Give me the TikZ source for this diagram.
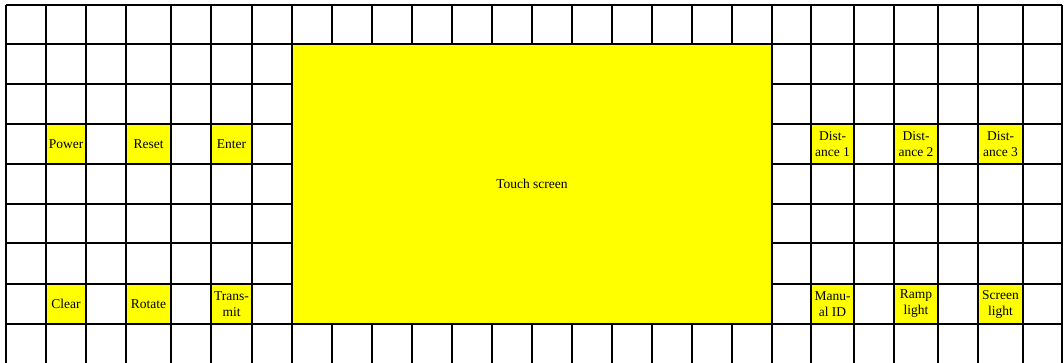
\documentclass[tikz,border=0pt]{standalone}
\usepackage{fontspec}
\setmainfont{Liberation Serif}
\usepackage{tikz}

\definecolor{keyyellow}{RGB}{255,255,0}

\begin{document}
\begin{tikzpicture}[
   x=1pt, y=-1pt,
   font=\fontsize{13.5}{16}\selectfont,
   gridline/.style={draw=black,line width=1.3pt},
   key/.style={draw=black,line width=1.3pt,fill=keyyellow,inner sep=0pt,
               align=center,minimum height=40pt,minimum width=#1},
   key/.default=40pt,
]
\useasboundingbox (0,0) rectangle (1064,362);
\clip (0,0) rectangle (1064,362);

% grid
\foreach \x in {6,46,86,126,171,211,252,292,332,372,412,452,492,532,572,612,
                652,692,732,772,811,854,894,938,978,1023,1062}
  \draw[gridline] (\x,5) -- (\x,370);
\foreach \y in {5,44,84,124,164,204,243,284,324}
  \draw[gridline] (6,\y) -- (1062,\y);

% touch screen
\node[key=480pt, minimum height=280pt] (touch) at (532,184) {Touch screen};

% left keys
\node[key]      (power)    at (66,144)    {Power};
\node[key=45pt] (reset)    at (148.5,144) {Reset};
\node[key=41pt] (enter)    at (231.5,144) {Enter};
\node[key]      (clear)    at (66,304)    {Clear};
\node[key=45pt] (rotate)   at (148.5,304) {Rotate};
\node[key=41pt] (transmit) at (231.5,304) {Trans-\\mit};

% right keys
\node[key=43pt] (dist1)       at (832.5,144)  {Dist-\\ance 1};
\node[key=44pt] (dist2)       at (916,144)    {Dist-\\ance 2};
\node[key=45pt] (dist3)       at (1000.5,144) {Dist-\\ance 3};
\node[key=43pt] (manual)      at (832.5,304)  {Manu-\\al ID};
\node[key=44pt] (ramp)        at (916,304)    {Ramp\\light};
\node[key=45pt] (screenlight) at (1000.5,304) {Screen\\light};

\end{tikzpicture}
\end{document}
